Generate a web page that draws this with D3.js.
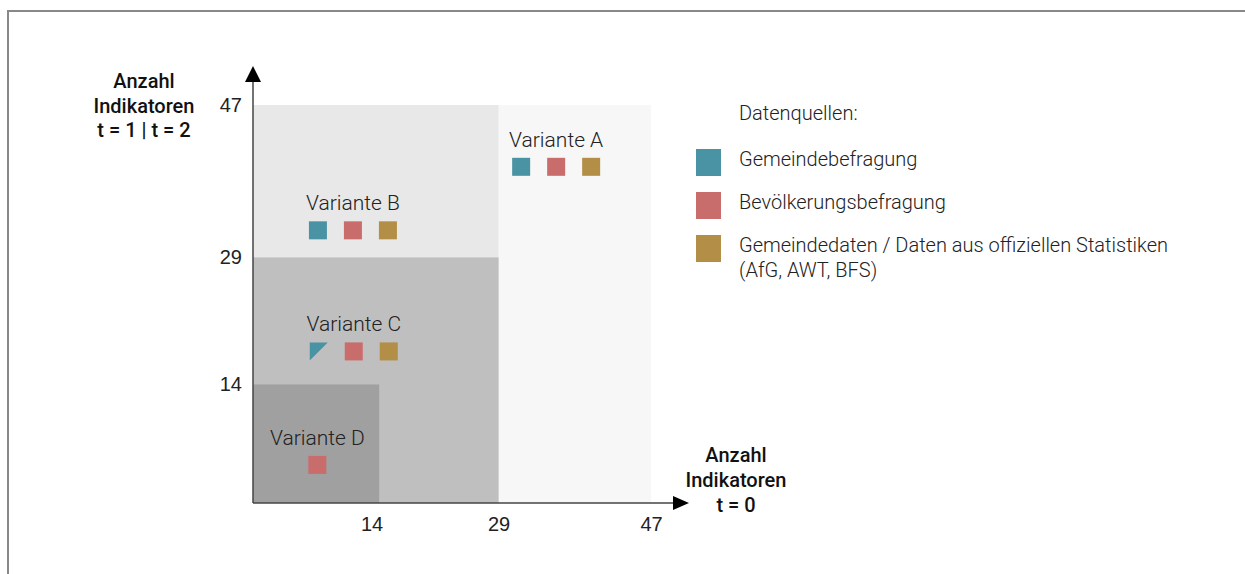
<!DOCTYPE html>
<html>
<head>
<meta charset="utf-8">
<script src="https://cdn.jsdelivr.net/npm/d3@7"></script>
<style>
  body { margin: 0; background: #fff; }
  svg { display: block; font-family: Roboto, "Noto Sans", sans-serif; }
  .tick text { font-size: 20px; font-weight: 300; fill: #222; }
  .axis-title { font-size: 20px; font-weight: 500; fill: #111; }
  .legend text { font-size: 20px; font-weight: 300; fill: #222; }
  .variant-label { font-size: 21px; font-weight: 300; fill: #222; }
</style>
</head>
<body>
<svg id="chart" width="1245" height="574"></svg>
<script>
// axis ticks (Anzahl Indikatoren)
const ticks = [14, 29, 47]

// variants: extent of each area in indicator counts, from the back to the front
const variantNames = ['Variante A', 'Variante B', 'Variante C', 'Variante D']
const variantXMax = [47, 29, 29, 14.9]
const variantYMax = [47, 47, 29, 14]
// centre of each marker row, in indicator counts
const markerX = [35.8, 11.8, 11.9, 7.6]
const markerY = [39.7, 32.2, 17.9, 4.5]
// data sources used by each variant (index into sourceNames); partial = only part of the source
const variantSources = [[0, 1, 2], [0, 1, 2], [0, 1, 2], [1]]
const variantPartial = [[], [], [0], []]

// legend
const legendTitle = 'Datenquellen:'
const sourceNames = [
  ['Gemeindebefragung'],
  ['Bevölkerungsbefragung'],
  ['Gemeindedaten / Daten aus offiziellen Statistiken', '(AfG, AWT, BFS)']
]

const yTitle = ['Anzahl', 'Indikatoren', 't = 1 | t = 2']
const xTitle = ['Anzahl', 'Indikatoren', 't = 0']

const areaColors = ['#f7f7f7', '#e8e8e8', '#bfbfbf', '#a0a0a0']
const sourceColors = ['#4a93a5', '#c96c6c', '#b28e47']

const svg = d3.select('#chart')

// frame
svg.append('rect')
  .attr('x', 8).attr('y', 11)
  .attr('width', 1260).attr('height', 600)
  .attr('fill', 'none')
  .attr('stroke', '#888')
  .attr('stroke-width', 2)

const x = d3.scaleLinear().domain([0, 47]).range([253, 651])
const y = d3.scaleLinear().domain([0, 47]).range([503, 105])

// variant areas
svg.append('g').selectAll('rect')
  .data(variantNames)
  .join('rect')
  .attr('x', x(0))
  .attr('y', (d, i) => y(variantYMax[i]))
  .attr('width', (d, i) => x(variantXMax[i]) - x(0))
  .attr('height', (d, i) => y(0) - y(variantYMax[i]))
  .attr('fill', (d, i) => areaColors[i])

// axes
const xAxis = svg.append('g')
  .attr('transform', `translate(0,${y(0)})`)
  .call(d3.axisBottom(x).tickValues(ticks).tickSize(0).tickPadding(14))
xAxis.select('.domain').remove()

const yAxis = svg.append('g')
  .attr('transform', `translate(${x(0)},0)`)
  .call(d3.axisLeft(y).tickValues(ticks).tickSize(0).tickPadding(11))
yAxis.select('.domain').remove()

// axis lines with arrow heads
svg.append('line')
  .attr('x1', x(0)).attr('y1', y(0))
  .attr('x2', 674).attr('y2', y(0))
  .attr('stroke', '#444').attr('stroke-width', 1.5)
svg.append('path')
  .attr('d', `M673,${y(0) - 7}L689,${y(0)}L673,${y(0) + 7}Z`)
  .attr('fill', '#000')

svg.append('line')
  .attr('x1', x(0)).attr('y1', y(0))
  .attr('x2', x(0)).attr('y2', 81)
  .attr('stroke', '#444').attr('stroke-width', 1.5)
svg.append('path')
  .attr('d', `M${x(0) - 8},82L${x(0)},66L${x(0) + 8},82Z`)
  .attr('fill', '#000')

// axis titles
svg.append('text')
  .attr('class', 'axis-title')
  .attr('text-anchor', 'middle')
  .selectAll('tspan')
  .data(yTitle)
  .join('tspan')
  .attr('x', 144)
  .attr('y', (d, i) => 88 + i * 24.5)
  .text(d => d)

svg.append('text')
  .attr('class', 'axis-title')
  .attr('text-anchor', 'middle')
  .selectAll('tspan')
  .data(xTitle)
  .join('tspan')
  .attr('x', 736)
  .attr('y', (d, i) => 462 + i * 25)
  .text(d => d)

// variant labels and source markers
const size = 18
const gap = 35
variantNames.forEach((name, i) => {
  let cx = x(markerX[i])
  let cy = y(markerY[i])
  let srcs = variantSources[i]
  let g = svg.append('g')

  g.append('text')
    .attr('class', 'variant-label')
    .attr('text-anchor', 'middle')
    .attr('x', cx)
    .attr('y', cy - size / 2 - 11)
    .text(name)

  srcs.forEach((s, j) => {
    let mx = cx + (j - (srcs.length - 1) / 2) * gap - size / 2
    let my = cy - size / 2
    if (variantPartial[i].includes(s)) {
      // only part of the source: upper-left triangle
      g.append('path')
        .attr('d', `M${mx},${my}L${mx + size},${my}L${mx},${my + size}Z`)
        .attr('fill', sourceColors[s])
    } else {
      g.append('rect')
        .attr('x', mx).attr('y', my)
        .attr('width', size).attr('height', size)
        .attr('fill', sourceColors[s])
    }
  })
})

// legend
const legend = svg.append('g').attr('class', 'legend')
legend.append('text')
  .attr('x', 739).attr('y', 120)
  .text(legendTitle)

const items = legend.selectAll('g.item')
  .data(sourceNames)
  .join('g')
  .attr('class', 'item')
  .attr('transform', (d, i) => `translate(696,${149 + i * 43})`)

items.append('rect')
  .attr('width', 25).attr('height', 27)
  .attr('fill', (d, i) => sourceColors[i])

items.append('text')
  .selectAll('tspan')
  .data(d => d)
  .join('tspan')
  .attr('x', 43)
  .attr('y', (d, i) => 17 + i * 25)
  .text(d => d)
</script>
</body>
</html>
